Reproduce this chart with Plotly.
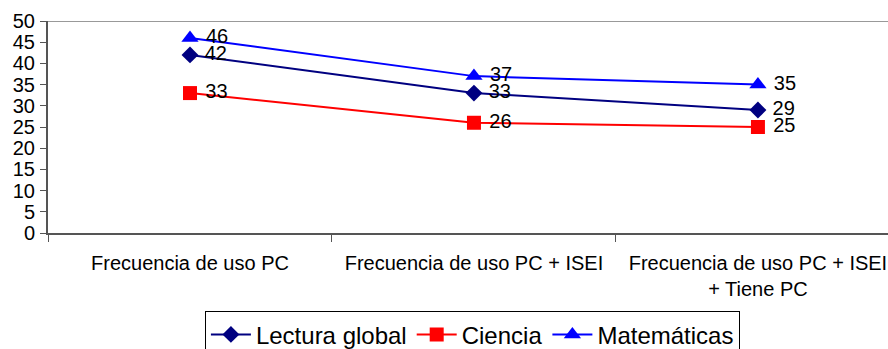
import plotly.graph_objects as go

categories = ["Frecuencia de uso PC", "Frecuencia de uso PC + ISEI",
              "Frecuencia de uso PC + ISEI<br>+ Tiene PC"]
lectura = [42, 33, 29]
ciencia = [33, 26, 25]
matematicas = [46, 37, 35]

series = [
    ("Lectura global", lectura, "#000080", "diamond", 13),
    ("Ciencia", ciencia, "#FF0000", "square", 14),
    ("Matemáticas", matematicas, "#0000FF", "triangle-up", 15),
]

FONT = "Liberation Sans, Arial"

fig = go.Figure()
for name, vals, color, symbol, size in series:
    fig.add_trace(go.Scatter(
        x=categories, y=vals, name=name, mode="lines+markers+text",
        line=dict(color=color, width=2),
        marker=dict(symbol=symbol, size=size, color=color),
        text=[f"\u00a0{v}" for v in vals], textposition="middle right",
        textfont=dict(family=FONT, size=20, color="black"),
        cliponaxis=False,
    ))

fig.update_layout(
    width=888, height=349,
    margin=dict(l=48, r=0, t=21, b=116),
    paper_bgcolor="white", plot_bgcolor="white",
    font=dict(family=FONT, size=20, color="black"),
    showlegend=True,
    legend=dict(
        orientation="h", xref="container", yref="container",
        x=0.532, xanchor="center", y=0.108, yanchor="top",
        bordercolor="black", borderwidth=1,
        font=dict(size=24), tracegroupgap=0, itemwidth=40,
    ),
    xaxis=dict(
        type="category", range=[-0.5, 2.458],
        tickson="boundaries", ticks="outside", ticklen=7,
        tickcolor="#555555", tickwidth=1,
        showline=True, linecolor="#555555", linewidth=2,
        showgrid=False, zeroline=False,
        tickfont=dict(size=20), ticklabelstandoff=11,
    ),
    yaxis=dict(
        range=[0, 50], dtick=5, ticks="outside", ticklen=6,
        tickcolor="#555555", tickwidth=1,
        showline=True, linecolor="#555555", linewidth=2,
        showgrid=False, zeroline=False,
        tickfont=dict(size=20), ticklabelstandoff=1,
    ),
    shapes=[dict(type="line", xref="paper", yref="y", x0=0, x1=1, y0=50, y1=50,
                 line=dict(color="#999999", width=2))],
)

fig.write_html("out.html")
